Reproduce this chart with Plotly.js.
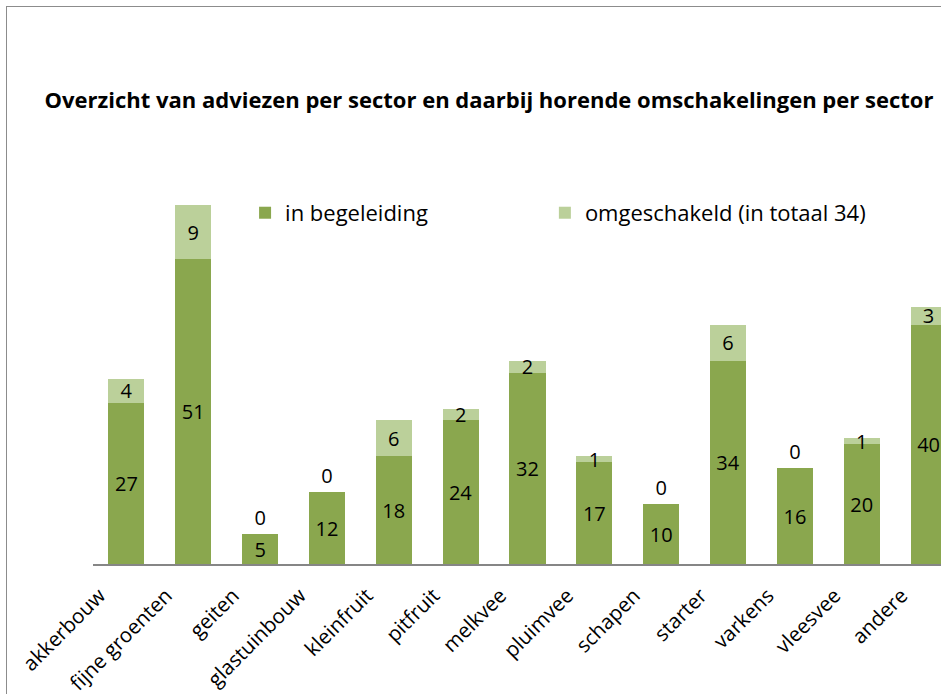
<!DOCTYPE html>
<html>
<head>
<meta charset="utf-8">
<script src="https://cdn.plot.ly/plotly-3.0.1.min.js"></script>
<style>
  html, body { margin: 0; padding: 0; width: 941px; height: 694px; overflow: hidden; background: #fff; }
  #chart { position: absolute; left: 0; top: 0; width: 975px; height: 694px; }
  #frame { position: absolute; left: 6px; top: 6px; width: 2000px; height: 2000px;
           border-left: 1.5px solid #8c8c8c; border-top: 1.5px solid #8c8c8c; pointer-events: none; }
</style>
</head>
<body>
<div id="chart"></div>
<div id="frame"></div>
<script>
const categories = ["akkerbouw", "fijne groenten", "geiten", "glastuinbouw", "kleinfruit", "pitfruit",
                    "melkvee", "pluimvee", "schapen", "starter", "varkens", "vleesvee", "andere"];
const inBegeleiding = [27, 51, 5, 12, 18, 24, 32, 17, 10, 34, 16, 20, 40];
const omgeschakeld = [4, 9, 0, 0, 6, 2, 2, 1, 0, 6, 0, 1, 3];
const seriesNames = ["in begeleiding", "omgeschakeld (in totaal 34)"];
const titleText = "Overzicht van adviezen per sector en daarbij horende omschakelingen per sector";

const font = "'Open Sans', 'Noto Sans', 'DejaVu Sans', sans-serif";

const traces = [
  {
    type: "bar", name: seriesNames[0], x: categories, y: inBegeleiding, legend: "legend",
    marker: { color: "#8AA74E" },
    text: inBegeleiding.map(String), textposition: "inside", insidetextanchor: "middle",
    constraintext: "none", textangle: 0,
    textfont: { family: font, size: 20, color: "#000" },
    hoverinfo: "skip"
  },
  {
    type: "bar", name: seriesNames[1], x: categories, y: omgeschakeld, legend: "legend2",
    marker: { color: "#BBD09A" },
    text: omgeschakeld.map(String),
    textposition: omgeschakeld.map(v => v === 0 ? "outside" : "inside"),
    insidetextanchor: "middle", constraintext: "none", textangle: 0, cliponaxis: false,
    textfont: { family: font, size: 20, color: "#000" },
    outsidetextfont: { family: font, size: 20, color: "#000" },
    hoverinfo: "skip"
  }
];

const legendBase = {
  orientation: "h", yanchor: "middle", y: 0.828, xanchor: "left",
  font: { family: font, size: 22, color: "#000" },
  bgcolor: "rgba(0,0,0,0)"
};

const layout = {
  width: 975, height: 694,
  margin: { l: 93, r: 13, t: 140, b: 130 },
  paper_bgcolor: "rgba(0,0,0,0)", plot_bgcolor: "rgba(0,0,0,0)",
  barmode: "stack", bargap: 0.46,
  showlegend: true,
  title: {
    text: "<b>" + titleText + "</b>",
    font: { family: font, size: 22, color: "#000" },
    xref: "container", x: 489 / 975, xanchor: "center",
    yref: "container", y: 1 - 100 / 694, yanchor: "middle"
  },
  legend: Object.assign({}, legendBase, { x: 0.175 }),
  legend2: Object.assign({}, legendBase, { x: 0.520 }),
  xaxis: {
    type: "category",
    showline: true, linecolor: "#868686", linewidth: 1.5,
    ticks: "", tickangle: -45,
    tickfont: { family: font, size: 20.5, color: "#000" },
    ticklabelshift: -27, ticklabelstandoff: 10,
    fixedrange: true
  },
  yaxis: {
    range: [0, 70.9], showgrid: false, zeroline: false, showline: false,
    showticklabels: false, ticks: "", fixedrange: true
  }
};

Plotly.newPlot("chart", traces, layout, { displayModeBar: false, staticPlot: true });
</script>
</body>
</html>
